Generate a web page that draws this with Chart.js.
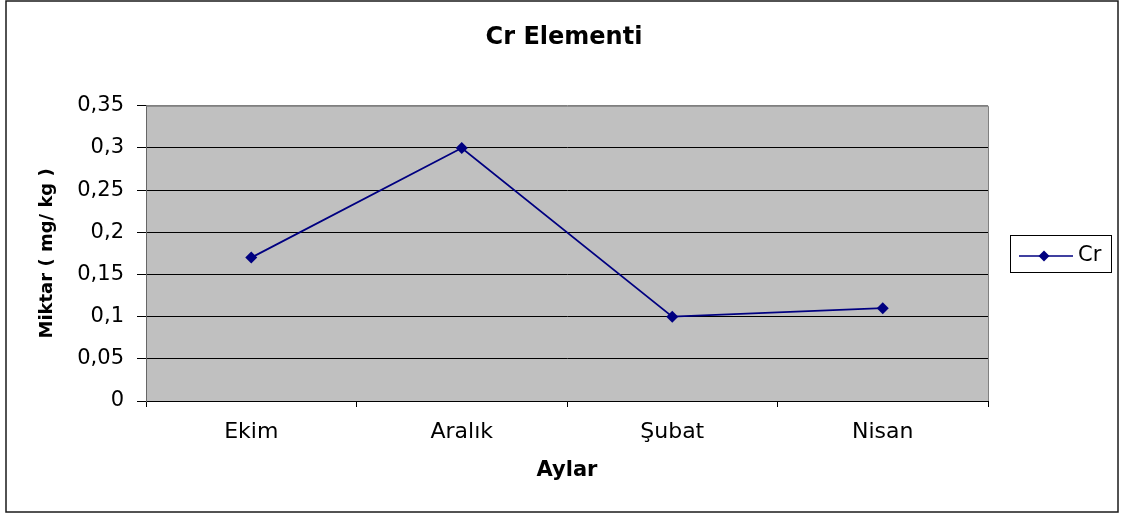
<!DOCTYPE html>
<html>
<head>
<meta charset="utf-8">
<script src="https://cdn.jsdelivr.net/npm/chart.js@4/dist/chart.umd.min.js"></script>
<style>
html,body{margin:0;padding:0;background:#fff;}
#wrap{width:1122px;height:516px;}
</style>
</head>
<body>
<div id="wrap"><canvas id="c" width="1122" height="516"></canvas></div>
<script>
const categories = ["Ekim", "Aralık", "Şubat", "Nisan"];
const crValues = [0.17, 0.30, 0.10, 0.11];
const yTickLabels = ["0", "0,05", "0,1", "0,15", "0,2", "0,25", "0,3", "0,35"];
const chartTitle = "Cr Elementi";
const yTitle = "Miktar ( mg/ kg )";
const xTitle = "Aylar";
const seriesName = "Cr";

const FONT = "'DejaVu Sans', sans-serif";
const NAVY = "#000080";

const framePlugin = {
  id: 'frame',
  beforeDraw(chart) {
    const ctx = chart.ctx;
    const a = chart.chartArea;
    ctx.save();
    ctx.fillStyle = '#ffffff';
    ctx.fillRect(0, 0, chart.width, chart.height);
    ctx.fillStyle = '#C0C0C0';
    ctx.fillRect(a.left, a.top, a.right - a.left, a.bottom - a.top);
    ctx.restore();
  },
  afterDatasetsDraw(chart) {
    const ctx = chart.ctx;
    const a = chart.chartArea;
    ctx.save();
    ctx.strokeStyle = '#808080';
    ctx.lineWidth = 1;
    ctx.beginPath();
    ctx.moveTo(a.left, a.top + 0.5);
    ctx.lineTo(a.right + 0.5, a.top + 0.5);
    ctx.lineTo(a.right + 0.5, a.bottom);
    ctx.stroke();
    ctx.strokeStyle = '#1a1a1a';
    ctx.lineWidth = 1.5;
    ctx.strokeRect(6, 1, 1112, 511);
    const lx = 1010, ly = 235, lw = 101, lh = 37;
    ctx.fillStyle = '#fff';
    ctx.fillRect(lx, ly, lw, lh);
    ctx.strokeStyle = '#000';
    ctx.lineWidth = 1;
    ctx.strokeRect(lx + 0.5, ly + 0.5, lw, lh);
    const ds = chart.data.datasets[0];
    const cy = 256;
    ctx.strokeStyle = ds.borderColor;
    ctx.lineWidth = 1.5;
    ctx.beginPath();
    ctx.moveTo(1019, cy);
    ctx.lineTo(1073, cy);
    ctx.stroke();
    ctx.fillStyle = ds.backgroundColor;
    ctx.beginPath();
    ctx.moveTo(1044, cy - 5.5);
    ctx.lineTo(1049.5, cy);
    ctx.lineTo(1044, cy + 5.5);
    ctx.lineTo(1038.5, cy);
    ctx.closePath();
    ctx.fill();
    ctx.fillStyle = '#000';
    ctx.font = "21px " + FONT;
    ctx.textBaseline = 'middle';
    ctx.textAlign = 'left';
    ctx.fillText(ds.label, 1078, cy);
    ctx.restore();
  }
};

new Chart(document.getElementById('c'), {
  type: 'line',
  data: {
    labels: categories,
    datasets: [{
      label: seriesName,
      data: crValues,
      yAxisID: 'y',
      borderColor: NAVY,
      backgroundColor: NAVY,
      borderWidth: 1.8,
      pointStyle: 'rectRot',
      pointRadius: 6,
      pointHoverRadius: 6,
      pointBorderWidth: 0,
      tension: 0,
      fill: false
    }]
  },
  options: {
    responsive: false,
    animation: false,
    devicePixelRatio: 1,
    layout: { padding: { left: 6, right: 0, top: 0, bottom: 4 } },
    plugins: {
      legend: { display: false },
      tooltip: { enabled: false },
      title: {
        display: true,
        text: chartTitle,
        color: '#000',
        font: { family: FONT, size: 24, weight: 'bold' },
        padding: { top: 23, bottom: 54 }
      }
    },
    scales: {
      x: {
        offset: true,
        grid: {
          offset: true,
          drawOnChartArea: false,
          drawTicks: true,
          tickLength: 6,
          color: '#000',
          tickColor: '#000'
        },
        border: { display: true, color: '#000', width: 1 },
        ticks: {
          color: '#000',
          font: { family: FONT, size: 22 },
          padding: 12,
          maxRotation: 0,
          autoSkip: false
        },
        title: {
          display: true,
          text: xTitle,
          color: '#000',
          font: { family: FONT, size: 21, weight: 'bold' },
          padding: { top: 0, bottom: 29 }
        },
        afterFit(scale) { scale.height = 111; }
      },
      y: {
        position: 'left',
        min: 0,
        max: 0.35,
        ticks: {
          stepSize: 0.05,
          color: '#000',
          font: { family: FONT, size: 21 },
          padding: 13,
          callback: (v, i) => yTickLabels[i]
        },
        grid: {
          color: (ctx) => (ctx.index === yTickLabels.length - 1 ? '#808080' : '#000'),
          tickColor: '#000',
          tickLength: 9,
          lineWidth: 1
        },
        border: { display: true, color: '#666', width: 1 },
        title: {
          display: true,
          text: yTitle,
          color: '#000',
          font: { family: FONT, size: 18, weight: 'bold' },
          padding: { top: 31, bottom: 0 }
        },
        afterFit(scale) { scale.width = 140; }
      },
      yRight: {
        position: 'right',
        display: true,
        min: 0,
        max: 0.35,
        grid: { display: false, drawOnChartArea: false, drawTicks: false },
        border: { display: false },
        ticks: { display: false },
        afterFit(scale) { scale.width = 134; }
      }
    }
  },
  plugins: [framePlugin]
});
</script>
</body>
</html>
